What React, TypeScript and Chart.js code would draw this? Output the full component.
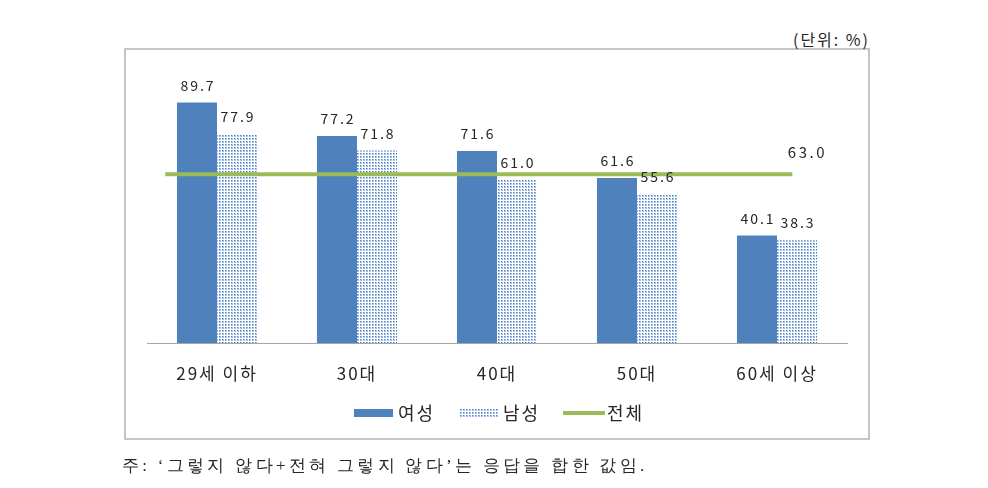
import React, { useEffect, useRef } from 'react';
import { Chart, registerables } from 'chart.js';

Chart.register(...registerables);

const categories = ['29세 이하', '30대', '40대', '50대', '60세 이상'];
const femaleValues = [89.7, 77.2, 71.6, 61.6, 40.1];
const maleValues = [77.9, 71.8, 61.0, 55.6, 38.3];
const totalValue = 63.0;
const seriesNames = ['여성', '남성', '전체'];
const unitLabel = '(단위: %)';
const footnote = '주: ‘그렇지 않다+전혀 그렇지 않다’는 응답을 합한 값임.';

const FONT = '"Noto Sans CJK KR", "Noto Sans", sans-serif';
const BLUE = '#4F81BD';
const GREEN = '#9BBB59';

function makeDotCanvas(): HTMLCanvasElement {
  const c = document.createElement('canvas');
  c.width = 3;
  c.height = 3;
  const g = c.getContext('2d')!;
  g.fillStyle = '#ffffff';
  g.fillRect(0, 0, 3, 3);
  g.fillStyle = '#a3c0e4';
  g.fillRect(0, 0, 2, 2);
  g.fillStyle = '#4a80c2';
  g.fillRect(0, 0, 1, 1);
  return c;
}

export default function App() {
  const canvasRef = useRef<HTMLCanvasElement | null>(null);
  const legendDotRef = useRef<HTMLSpanElement | null>(null);

  useEffect(() => {
    const canvas = canvasRef.current!;
    const ctx = canvas.getContext('2d')!;
    const pattern = ctx.createPattern(makeDotCanvas(), 'repeat')!;
    const dotUrl = makeDotCanvas().toDataURL();
    if (legendDotRef.current) legendDotRef.current.style.backgroundImage = `url(${dotUrl})`;

    const spacingPlugin = {
      id: 'spacing',
      beforeDraw(chart: any) {
        (chart.ctx as any).letterSpacing = '2px';
      },
      afterDraw(chart: any) {
        (chart.ctx as any).letterSpacing = '0px';
      },
    };

    const labelPlugin = {
      id: 'valueLabels',
      afterDatasetsDraw(chart: any) {
        const c = chart.ctx;
        c.save();
        c.fillStyle = '#262626';
        c.textAlign = 'center';
        c.textBaseline = 'alphabetic';
        c.font = `14px ${FONT}`;
        (c as any).letterSpacing = '2px';
        [0, 1].forEach((di) => {
          const meta = chart.getDatasetMeta(di);
          meta.data.forEach((el: any, i: number) => {
            const v = di === 0 ? femaleValues[i] : maleValues[i];
            c.fillText(v.toFixed(1), el.x + 1, el.y - 12);
          });
        });
        const lm = chart.getDatasetMeta(2);
        const last = lm.data[lm.data.length - 1] as any;
        c.font = `15px ${FONT}`;
        (c as any).letterSpacing = '2.5px';
        c.fillText(totalValue.toFixed(1), last.x + 15, last.y - 16);
        c.restore();
      },
    };

    const chart = new Chart(canvas, {
      type: 'bar',
      data: {
        datasets: [
          {
            label: seriesNames[0],
            data: femaleValues.map((v, i) => ({ x: i, y: v })),
            backgroundColor: BLUE,
            barPercentage: 1,
            categoryPercentage: 0.572,
            order: 2,
          },
          {
            label: seriesNames[1],
            data: maleValues.map((v, i) => ({ x: i, y: v })),
            backgroundColor: pattern as any,
            barPercentage: 1,
            categoryPercentage: 0.572,
            order: 2,
          },
          {
            type: 'line',
            label: seriesNames[2],
            data: [
              { x: -0.37, y: totalValue },
              { x: 4.11, y: totalValue },
            ],
            borderColor: GREEN,
            borderWidth: 4,
            pointRadius: 0,
            order: 1,
          } as any,
        ],
      },
      options: {
        animation: false,
        responsive: false,
        maintainAspectRatio: false,
        layout: { padding: { left: 147, right: 141, top: 75, bottom: 0 } },
        plugins: { legend: { display: false }, tooltip: { enabled: false } },
        scales: {
          x: {
            type: 'linear',
            min: -0.5,
            max: 4.5,
            offset: false,
            grid: { display: false, drawTicks: false },
            border: { display: true, color: '#a6a6a6', width: 1 },
            ticks: {
              padding: 20,
              color: '#262626',
              autoSkip: false,
              maxRotation: 0,
              font: { family: FONT, size: 17 },
              callback: (v: any) => categories[v] ?? '',
            },
            afterBuildTicks: (s: any) => {
              s.ticks = categories.map((_, i) => ({ value: i }));
            },
            afterFit: (s: any) => {
              s.height = 145;
            },
          },
          y: { display: false, min: 0, max: 100 },
        } as any,
      },
      plugins: [spacingPlugin, labelPlugin],
    });
    return () => chart.destroy();
  }, []);

  const textStyle: React.CSSProperties = {
    position: 'absolute',
    fontFamily: FONT,
    color: '#262626',
    whiteSpace: 'nowrap',
    lineHeight: 1,
  };

  return (
    <div style={{ position: 'fixed', left: 0, top: 0, width: 988, height: 488, background: '#fff', overflow: 'hidden' }}>
      <div
        style={{
          position: 'absolute',
          left: 124,
          top: 48,
          width: 746,
          height: 392,
          border: '2px solid #c6c6c6',
          boxSizing: 'border-box',
        }}
      />
      <div style={{ ...textStyle, right: 988 - 870, top: 31, fontSize: 16, letterSpacing: 2 }}>{unitLabel}</div>
      <canvas ref={canvasRef} width={988} height={488} style={{ position: 'absolute', left: 0, top: 0 }} />
      <span style={{ position: 'absolute', left: 354, top: 409, width: 39, height: 8, background: BLUE }} />
      <span style={{ ...textStyle, left: 398, top: 403, fontSize: 18, letterSpacing: 2 }}>{seriesNames[0]}</span>
      <span ref={legendDotRef} style={{ position: 'absolute', left: 460, top: 409, width: 38, height: 8, backgroundRepeat: 'repeat' }} />
      <span style={{ ...textStyle, left: 503, top: 403, fontSize: 18, letterSpacing: 2 }}>{seriesNames[1]}</span>
      <span style={{ position: 'absolute', left: 563, top: 411, width: 42, height: 4, background: GREEN }} />
      <span style={{ ...textStyle, left: 607, top: 403, fontSize: 18, letterSpacing: 2 }}>{seriesNames[2]}</span>
      <div style={{ ...textStyle, left: 122, top: 457, fontSize: 17, fontFamily: 'serif', letterSpacing: 3.3 }}>{footnote}</div>
    </div>
  );
}
